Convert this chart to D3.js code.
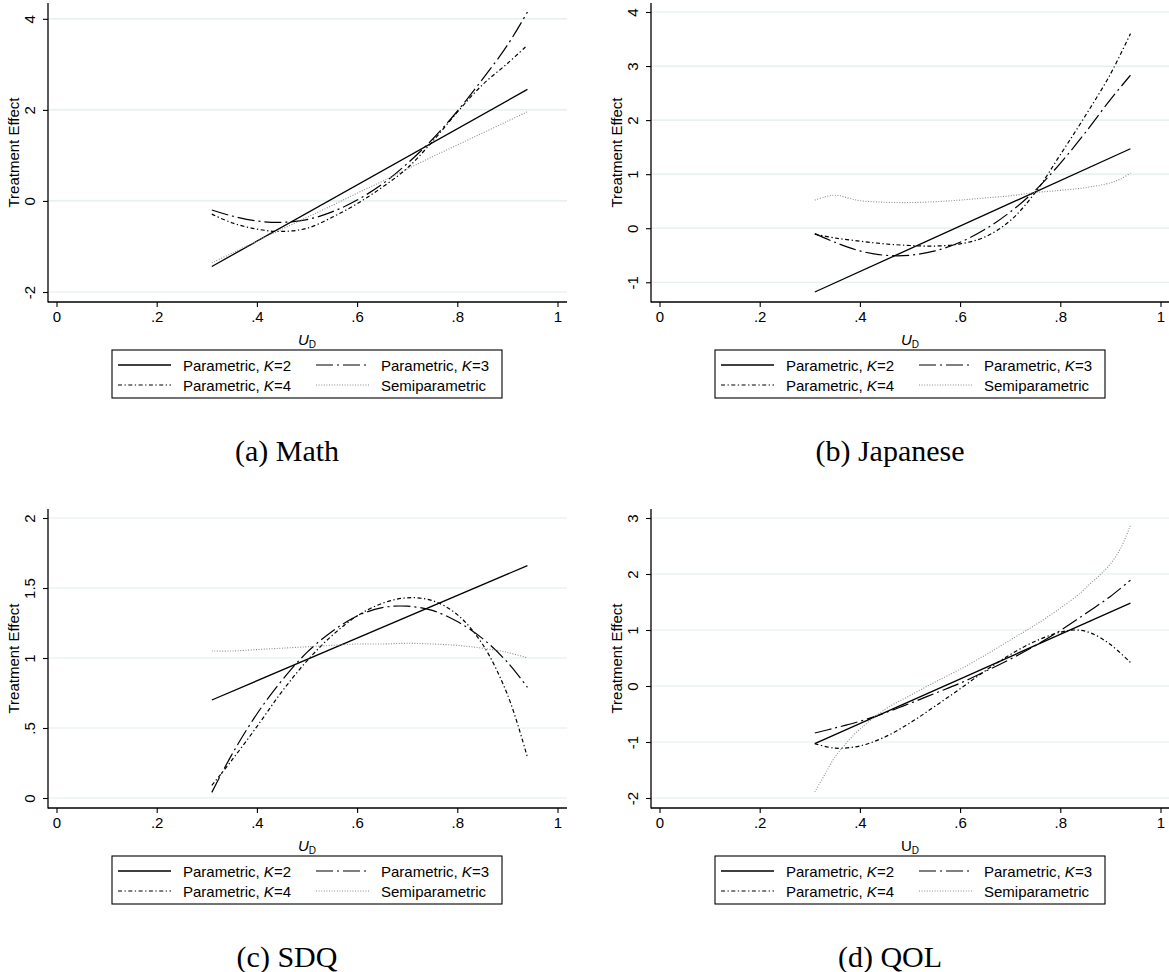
<!DOCTYPE html>
<html><head><meta charset="utf-8">
<script src="https://cdn.jsdelivr.net/npm/d3@7"></script>
<style>body{margin:0;background:#fff}svg{display:block}</style>
</head><body>
<svg id="c" width="1169" height="972"></svg>
<script>
// ---------- data ----------
const xTicks = [0, 0.2, 0.4, 0.6, 0.8, 1];
const xTickLabels = ["0", ".2", ".4", ".6", ".8", "1"];
const seriesLabels = [["Parametric, ", "K", "=2"], ["Parametric, ", "K", "=3"], ["Parametric, ", "K", "=4"], ["Semiparametric", "", ""]];
const captions = ["(a) Math", "(b) Japanese", "(c) SDQ", "(d) QOL"];

const uEnds = [0.31, 0.94];
const uCommon = [0.31, 0.35, 0.40, 0.45, 0.50, 0.55, 0.60, 0.65, 0.70, 0.75, 0.80, 0.85, 0.90, 0.94];

// (a) Math
const mathYTicks = [-2, 0, 2, 4];
const mathYLabels = ["-2", "0", "2", "4"];
const mathK2 = [-1.44, 2.45];
const mathK3 = [-0.20, -0.33, -0.44, -0.47, -0.41, -0.24, 0.02, 0.37, 0.82, 1.35, 1.97, 2.67, 3.42, 4.15];
const mathK4 = [-0.29, -0.48, -0.62, -0.67, -0.60, -0.36, -0.06, 0.30, 0.72, 1.30, 1.95, 2.55, 3.02, 3.42];
const mathSemi = [-1.36, -1.15, -0.88, -0.62, -0.36, -0.10, 0.17, 0.43, 0.70, 0.97, 1.23, 1.49, 1.75, 1.96];

// (b) Japanese
const japYTicks = [-1, 0, 1, 2, 3, 4];
const japYLabels = ["-1", "0", "1", "2", "3", "4"];
const japK2 = [-1.18, 1.47];
const japK3 = [-0.10, -0.26, -0.42, -0.50, -0.50, -0.42, -0.26, -0.02, 0.30, 0.70, 1.20, 1.77, 2.38, 2.83];
const japK4 = [-0.11, -0.18, -0.24, -0.29, -0.32, -0.33, -0.29, -0.16, 0.14, 0.66, 1.36, 2.08, 2.85, 3.60];
const japSemiU = [0.31, 0.33, 0.345, 0.36, 0.38, 0.40, 0.45, 0.50, 0.55, 0.60, 0.65, 0.70, 0.75, 0.80, 0.85, 0.90, 0.92, 0.94];
const japSemi = [0.52, 0.58, 0.61, 0.60, 0.55, 0.51, 0.48, 0.475, 0.49, 0.52, 0.56, 0.60, 0.66, 0.70, 0.75, 0.84, 0.91, 1.02];

// (c) SDQ
const sdqYTicks = [0, 0.5, 1, 1.5, 2];
const sdqYLabels = ["0", ".5", "1", "1.5", "2"];
const sdqK2 = [0.70, 1.66];
const sdqK3 = [0.04, 0.31, 0.60, 0.84, 1.04, 1.19, 1.30, 1.36, 1.37, 1.34, 1.26, 1.14, 0.97, 0.79];
const sdqK4 = [0.09, 0.27, 0.51, 0.76, 0.98, 1.16, 1.30, 1.39, 1.43, 1.41, 1.31, 1.10, 0.74, 0.29];
const sdqSemi = [1.05, 1.05, 1.06, 1.07, 1.08, 1.09, 1.10, 1.10, 1.105, 1.10, 1.09, 1.07, 1.04, 1.00];

// (d) QOL
const qolYTicks = [-2, -1, 0, 1, 2, 3];
const qolYLabels = ["-2", "-1", "0", "1", "2", "3"];
const qolK2 = [-1.03, 1.48];
const qolK3 = [-0.84, -0.75, -0.63, -0.48, -0.31, -0.13, 0.05, 0.26, 0.48, 0.72, 0.99, 1.29, 1.60, 1.89];
const qolK4U = [0.31, 0.35, 0.40, 0.45, 0.50, 0.55, 0.60, 0.65, 0.70, 0.75, 0.80, 0.83, 0.86, 0.90, 0.94];
const qolK4 = [-1.03, -1.11, -1.07, -0.91, -0.66, -0.36, -0.05, 0.27, 0.56, 0.80, 0.96, 1.00, 0.95, 0.74, 0.42];
const qolSemiU = [0.31, 0.33, 0.35, 0.37, 0.40, 0.45, 0.50, 0.55, 0.60, 0.65, 0.70, 0.75, 0.80, 0.84, 0.86, 0.88, 0.90, 0.92, 0.94];
const qolSemi = [-1.89, -1.58, -1.27, -1.05, -0.77, -0.42, -0.17, 0.07, 0.30, 0.55, 0.82, 1.09, 1.39, 1.66, 1.83, 1.99, 2.18, 2.45, 2.87];

// ---------- table built from the arrays ----------
const panels = [
  {cap: captions[0], col: 0, row: 0, yt: mathYTicks, yl: mathYLabels, italicU: true,
   s: [[uEnds, mathK2], [uCommon, mathK3], [uCommon, mathK4], [uCommon, mathSemi]]},
  {cap: captions[1], col: 1, row: 0, yt: japYTicks, yl: japYLabels, italicU: true,
   s: [[uEnds, japK2], [uCommon, japK3], [uCommon, japK4], [japSemiU, japSemi]]},
  {cap: captions[2], col: 0, row: 1, yt: sdqYTicks, yl: sdqYLabels, italicU: true,
   s: [[uEnds, sdqK2], [uCommon, sdqK3], [uCommon, sdqK4], [uCommon, sdqSemi]]},
  {cap: captions[3], col: 1, row: 1, yt: qolYTicks, yl: qolYLabels, italicU: false,
   s: [[uEnds, qolK2], [uCommon, qolK3], [qolK4U, qolK4], [qolSemiU, qolSemi]]}
];

const styles = [
  {dash: null, color: "#000", w: 1.3},
  {dash: "17,4,2,4", color: "#000", w: 1.2},
  {dash: "4,2.5,1.3,2.5", color: "#000", w: 1.2},
  {dash: "1,1.6", color: "#8c8c8c", w: 1.1}
];

const SANS = "'Liberation Sans', Arial, sans-serif";
const SERIF = "'Liberation Serif', 'Times New Roman', serif";
const COLW = 603, ROWH = 506;
const PX0 = 48, PX1 = 567, PY0 = 3, PY1 = 302;

const svg = d3.select("#c");

panels.forEach(p => {
  const g = svg.append("g").attr("transform", `translate(${p.col * COLW},${p.row * ROWH})`);
  const vals = p.s.flatMap(d => d[1]);
  const lo = Math.min(d3.min(p.yt), d3.min(vals));
  const hi = Math.max(d3.max(p.yt), d3.max(vals));
  const x = d3.scaleLinear().domain([0, 1]).range([56.5, 557.5]);
  const y = d3.scaleLinear().domain([lo, hi]).range([292, 12]);

  // gridlines
  g.append("g").selectAll("line").data(p.yt).join("line")
    .attr("x1", PX0).attr("x2", PX1)
    .attr("y1", d => y(d)).attr("y2", d => y(d))
    .attr("stroke", "#e2ebee").attr("stroke-width", 1.2);

  // y axis
  const ya = g.append("g").attr("transform", `translate(${PX0},0)`)
    .call(d3.axisLeft(y).tickValues(p.yt).tickSize(5).tickFormat((d, i) => p.yl[i]));
  ya.select(".domain").remove();
  ya.selectAll(".tick line").attr("stroke", "#000").attr("stroke-width", 1.1);
  ya.selectAll(".tick text")
    .attr("x", null).attr("dy", null)
    .attr("transform", "translate(-13,0) rotate(-90)")
    .attr("text-anchor", "middle")
    .attr("font-family", SANS).attr("font-size", 15).attr("fill", "#000");

  // x axis
  const xa = g.append("g").attr("transform", `translate(0,${PY1})`)
    .call(d3.axisBottom(x).tickValues(xTicks).tickSize(5).tickFormat((d, i) => xTickLabels[i]));
  xa.select(".domain").remove();
  xa.selectAll(".tick line").attr("stroke", "#000").attr("stroke-width", 1.1);
  xa.selectAll(".tick text").attr("y", null).attr("dy", null)
    .attr("transform", "translate(0,20)")
    .attr("font-family", SANS).attr("font-size", 15).attr("fill", "#000");

  // axis lines
  g.append("line").attr("x1", PX0).attr("x2", PX0).attr("y1", PY0).attr("y2", PY1 + 0.5)
    .attr("stroke", "#000").attr("stroke-width", 1.3);
  g.append("line").attr("x1", PX0).attr("x2", PX1).attr("y1", PY1).attr("y2", PY1)
    .attr("stroke", "#000").attr("stroke-width", 1.3);

  // y title
  g.append("text").attr("transform", `translate(18.5,${(PY0 + PY1) / 2}) rotate(-90)`)
    .attr("text-anchor", "middle").attr("font-family", SANS).attr("font-size", 15)
    .text("Treatment Effect");

  // x title
  const xt = g.append("text").attr("x", (x(0) + x(1)) / 2).attr("y", 345)
    .attr("text-anchor", "middle").attr("font-family", SANS).attr("font-size", 15);
  xt.append("tspan").attr("font-style", p.italicU ? "italic" : "normal").text("U");
  xt.append("tspan").attr("font-size", 10).attr("dy", 3).text("D");

  // lines
  const line = d3.line().curve(d3.curveCatmullRom.alpha(0.5));
  p.s.forEach((sr, k) => {
    const pts = sr[0].map((u, i) => [x(u), y(sr[1][i])]);
    const st = styles[k];
    g.append("path").attr("d", line(pts)).attr("fill", "none")
      .attr("stroke", st.color).attr("stroke-width", st.w)
      .attr("stroke-dasharray", st.dash);
  });

  // legend
  const lg = g.append("g").attr("transform", "translate(112,350)");
  lg.append("rect").attr("x", 0).attr("y", 0).attr("width", 390).attr("height", 48)
    .attr("fill", "#fff").attr("stroke", "#000").attr("stroke-width", 1.1);
  const pos = [[0, 0], [1, 0], [0, 1], [1, 1]];
  seriesLabels.forEach((lab, k) => {
    const cx = pos[k][0] === 0 ? 0 : 198;
    const cy = pos[k][1] === 0 ? 15 : 35;
    const st = styles[k];
    lg.append("line").attr("x1", cx + 6).attr("x2", cx + 59).attr("y1", cy).attr("y2", cy)
      .attr("stroke", st.color).attr("stroke-width", st.w).attr("stroke-dasharray", st.dash);
    const t = lg.append("text").attr("x", cx + 71).attr("y", cy + 5.5)
      .attr("font-family", SANS).attr("font-size", 15);
    t.append("tspan").text(lab[0]);
    if (lab[1]) t.append("tspan").attr("font-style", "italic").text(lab[1]);
    if (lab[2]) t.append("tspan").text(lab[2]);
  });

  // caption
  g.append("text").attr("x", 287).attr("y", 461).attr("text-anchor", "middle")
    .attr("font-family", SERIF).attr("font-size", 30).text(p.cap);
});
</script>
</body></html>
